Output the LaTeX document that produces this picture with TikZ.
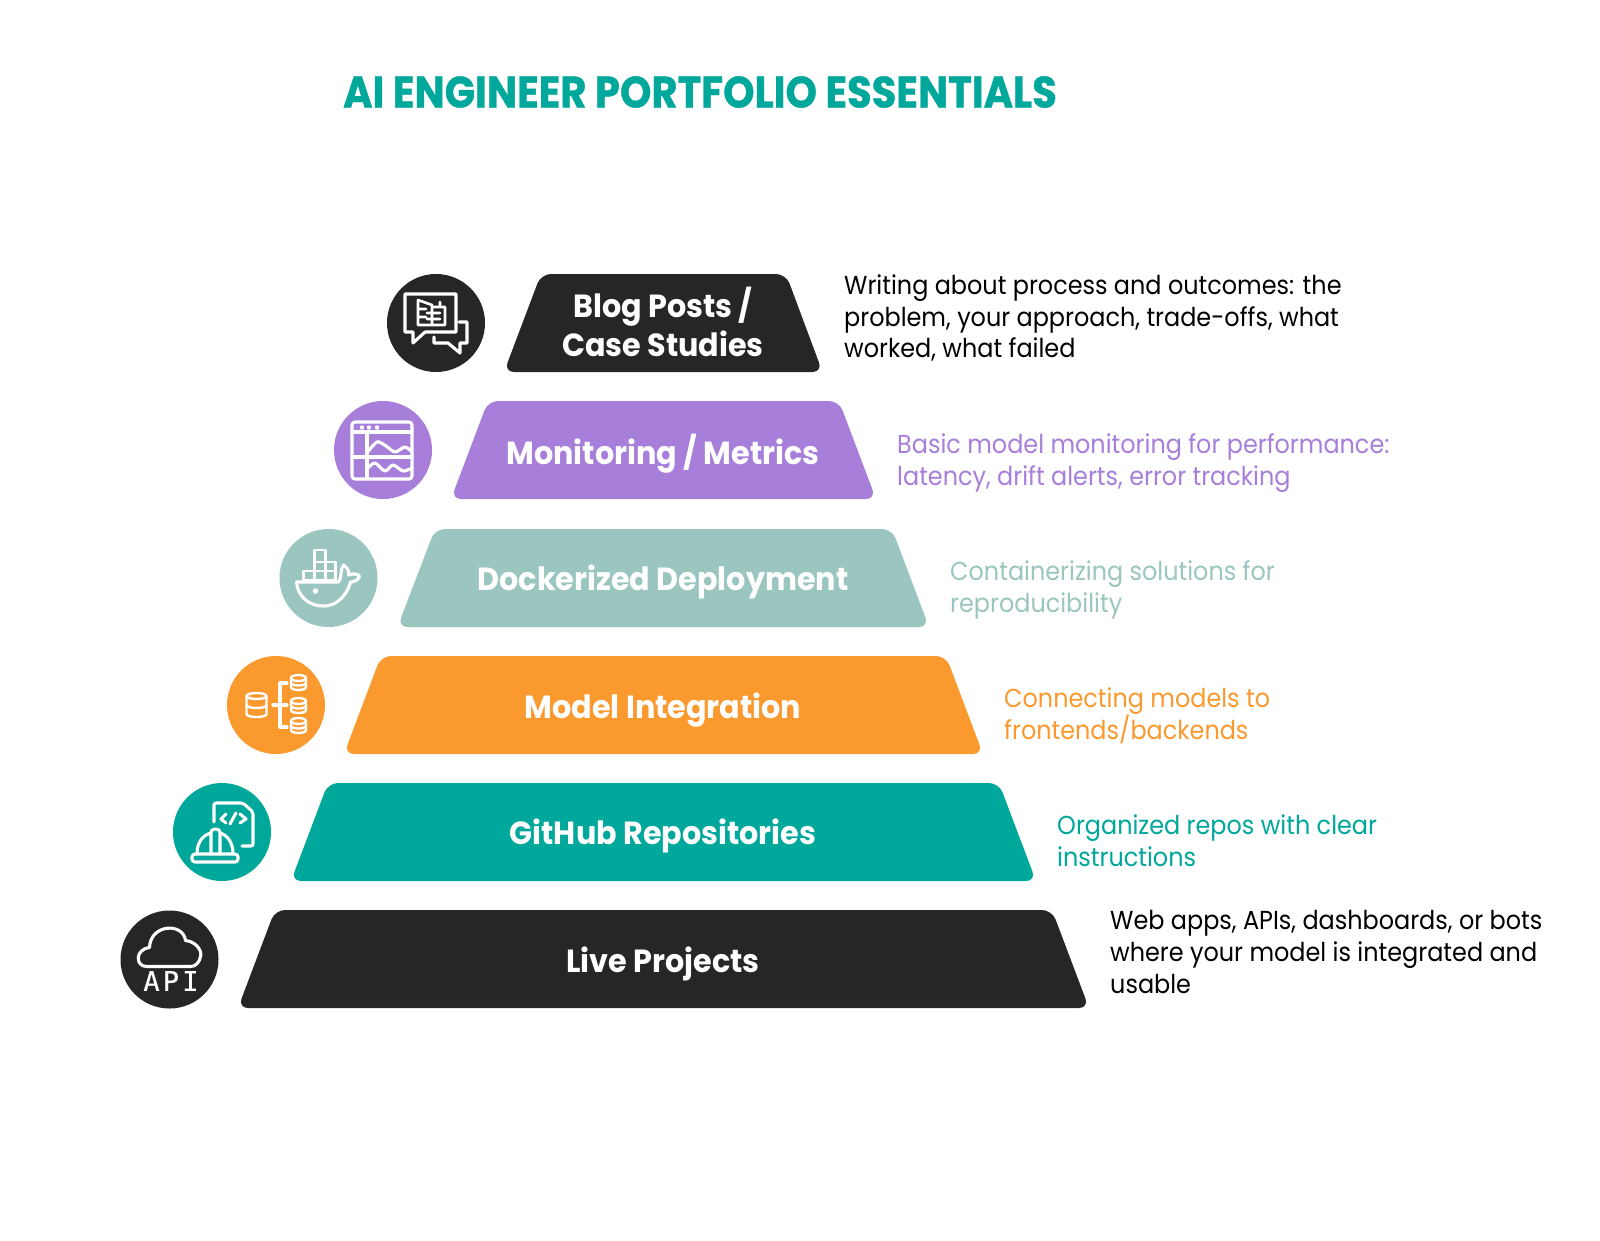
\documentclass[tikz,border=0pt]{standalone}
\usepackage{fontspec}
\setmainfont{Poppins}[FakeStretch=0.92]
\newfontfamily\lab{Poppins}[FakeStretch=0.945]
\newfontfamily\ttl{Poppins}[FakeStretch=0.91,FakeBold=0.8]
\newfontfamily\apifont{DejaVu Sans Mono}[LetterSpace=12,FakeBold=0.5]
\definecolor{ink}{HTML}{262626}
\definecolor{teal}{HTML}{00A79B}
\definecolor{purp}{HTML}{A77FDB}
\definecolor{sage}{HTML}{9AC6BF}
\definecolor{oran}{HTML}{FA9A2E}
\tikzset{
 x=1pt,y=-1pt,
 tier/.style={rounded corners=10pt},
 disc/.style={circle,minimum size=98pt,inner sep=0pt},
 tierlabel/.style={text=white,align=center,font=\lab\bfseries\fontsize{32}{39.5}\selectfont,inner sep=0pt},
 desc/.style={anchor=west,align=left,inner sep=0pt,font=\fontsize{26}{31.7}\selectfont},
 ico/.style={draw=white,line width=3.1pt,line cap=round,line join=round},
 cyl/.style={ico,line width=2.4pt},
}
\newcommand{\dbcyl}[4]{% cx, top, bottom, rx
 \draw[cyl] (#1,#2) ellipse ({#4} and 3);
 \draw[cyl] ({#1-#4},#2) -- ({#1-#4},#3) .. controls ({#1-#4},{#3+4}) and ({#1+#4},{#3+4}) .. ({#1+#4},#3) -- ({#1+#4},#2);
 \draw[cyl] ({#1-#4},{(#2+#3)/2}) .. controls ({#1-#4},{(#2+#3)/2+4}) and ({#1+#4},{(#2+#3)/2+4}) .. ({#1+#4},{(#2+#3)/2});
}
\begin{document}
\begin{tikzpicture}
\useasboundingbox (0,0) rectangle (1600,1240);
\fill[white] (0,0) rectangle (1600,1240);
\node[text=teal,font=\ttl\bfseries\fontsize{44}{50}\selectfont,inner sep=0pt] (title) at (700,92) {AI ENGINEER PORTFOLIO ESSENTIALS};
% tiers
\fill[ink,tier]  (541,274)--(786,274)--(822.5,372)--(504,372)--cycle;
\fill[purp,tier] (488,401)--(839,401)--(876,499)--(451,499)--cycle;
\fill[sage,tier] (435,529)--(892,529)--(929,627)--(397.5,627)--cycle;
\fill[oran,tier] (381,656)--(946,656)--(983,754)--(344,754)--cycle;
\fill[teal,tier] (328,783)--(999,783)--(1036,881)--(291,881)--cycle;
\fill[ink,tier]  (275,910)--(1052,910)--(1089,1008)--(238,1008)--cycle;
\node[tierlabel] (l1) at (663,322) {Blog Posts /\\Case Studies};
\node[tierlabel] (l2) at (663,454) {Monitoring / Metrics};
\node[tierlabel] (l3) at (663,582) {Dockerized Deployment};
\node[tierlabel] (l4) at (663,710) {Model Integration};
\node[tierlabel] (l5) at (663,836) {GitHub Repositories};
\node[tierlabel] (l6) at (663,964) {Live Projects};
% descriptions
\node[desc,text=black] (d1) at (844,318) {Writing about process and outcomes: the\\problem, your approach, trade-offs, what\\worked, what failed};
\node[desc,text=purp] (d2) at (897,463) {Basic model monitoring for performance:\\latency, drift alerts, error tracking};
\node[desc,text=sage] (d3) at (950,590) {Containerizing solutions for\\reproducibility};
\node[desc,text=oran] (d4) at (1004,716) {Connecting models to\\frontends/backends};
\node[desc,text=teal] (d5) at (1057,841) {Organized repos with clear\\instructions};
\node[desc,text=black] (d6) at (1110,952) {Web apps, APIs, dashboards, or bots\\where your model is integrated and\\usable};
% discs
\node[disc,fill=ink]  (c1) at (436,323) {};
\node[disc,fill=purp] (c2) at (383,450) {};
\node[disc,fill=sage] (c3) at (328.5,578) {};
\node[disc,fill=oran] (c4) at (276,705) {};
\node[disc,fill=teal] (c5) at (222,832) {};
\node[disc,fill=ink]  (c6) at (169.5,959.5) {};
% icon: blog
\begin{scope}[shift={(436,323)}]
\draw[ico] (-31,9)--(-31,-29)--(20,-29)--(20,9)--(-11,9)--(-23,20)--(-23,9)--cycle;
\draw[ico] (-2,14)--(-2,20)--(12,20)--(24,30)--(24,20)--(31,20)--(31,-1)--(23,-1);
\draw[ico,line width=2.6pt] (-18,-23)--(-4,-18)--(-4,2)--(-18,2)--cycle (-4,-16)--(9,-16)--(9,2)--(-4,2) (4,-21)--(4,-16) (-18,-14)--(-10,-14) (-18,-6)--(-10,-6) (-9,-10)--(4,-10) (-9,-4)--(4,-4);
\end{scope}
% icon: monitoring
\begin{scope}[shift={(383,450)}]
\draw[ico,rounded corners=3pt] (-31,-28) rectangle (29,29);
\draw[ico] (-31,-18)--(29,-18) (-31,7)--(29,7) (-16,-18)--(-16,29);
\fill[white] (-21,-22.5) circle (2.2) (-14,-22.5) circle (2.2) (-6,-22.5) circle (2.2);
\draw[ico] plot[smooth] coordinates {(-16,3) (-6,-8) (3,-4) (12,2) (22,-3) (29,2)};
\draw[ico] plot[smooth] coordinates {(-15,18) (-8,13) (2,21) (10,15) (20,21) (29,18)};
\end{scope}
% icon: docker
\begin{scope}[shift={(328.5,578)}]
\draw[ico,line width=2.6pt] (-25,2) rectangle (-14,-7) (-14,2) rectangle (-3,-7) (-3,2) rectangle (7,-7);
\draw[ico,line width=2.6pt] (-14,-7) rectangle (-3,-16) (-3,-7) rectangle (7,-16) (-14,-16) rectangle (-3,-28);
\draw[ico] (-32,4)--(10,4) .. controls (14,0) and (11,-8) .. (15,-13) .. controls (19,-10) and (21,-7) .. (20,-3) .. controls (25,-5) and (29,-4) .. (31,-2) .. controls (30,2) and (26,4) .. (22,4) .. controls (20,12) and (12,28) .. (-5,28) .. controls (-20,28) and (-31,18) .. (-32,4) -- cycle;
\fill[white] (-13,13) circle (2.8);
\end{scope}
% icon: model integration
\begin{scope}[shift={(276,705)}]
\dbcyl{-19.5}{-9}{9}{10}
\dbcyl{22.5}{-27}{-18}{7.5}
\dbcyl{22.5}{-4}{5}{7.5}
\dbcyl{22.5}{16}{25}{7.5}
\draw[ico] (-3,0)--(11,0) (11,-22)--(4,-22)--(4,22)--(11,22);
\end{scope}
% icon: github
\begin{scope}[shift={(222,832)}]
\draw[ico,rounded corners=2pt] (-8,-10)--(-8,-29)--(21,-29)--(31,-20)--(31,14)--(20,14);
\draw[ico] (4,-18)--(-1,-13)--(4,-9) (14,-19)--(8,-8) (18,-18)--(24,-13)--(18,-9);
\draw[ico,rounded corners=3pt] (-30,22) rectangle (16,30);
\draw[ico] (-25,22) .. controls (-25,10) and (-19,3) .. (-11,1) (-2,1) .. controls (5,3) and (11,10) .. (11,22);
\draw[ico] (-11,22)--(-11,0) .. controls (-11,-4) and (-2,-4) .. (-2,0) -- (-2,22);
\end{scope}
% icon: api
\begin{scope}[shift={(169.5,959.5)}]
\draw[ico] (-23,7) .. controls (-34,7) and (-35,-10) .. (-20,-12) .. controls (-19,-36) and (14,-37) .. (16,-19) .. controls (27,-18) and (33,-8) .. (31,-3) .. controls (30,3) and (26,7) .. (21,7) -- cycle;
\node[text=white,font=\apifont\fontsize{27}{27}\selectfont,inner sep=0pt] (api) at (1.5,21.5) {API};
\end{scope}
\end{tikzpicture}
\end{document}
